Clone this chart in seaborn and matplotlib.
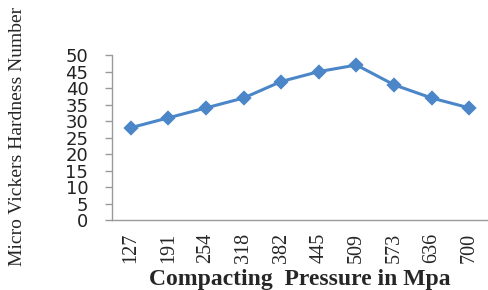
import matplotlib
matplotlib.use("Agg")
import matplotlib.pyplot as plt
import seaborn as sns
import pandas as pd
import numpy as np

pressure = ["127", "191", "254", "318", "382", "445", "509", "573", "636", "700"]
hardness = [28, 31, 34, 37, 42, 45, 47, 41, 37, 34]
yticks = [0, 5, 10, 15, 20, 25, 30, 35, 40, 45, 50]

sns.set_style("white")
plt.rcParams["font.family"] = ["DejaVu Sans"]

df = pd.DataFrame({"pressure": pressure, "hardness": hardness})

fig = plt.figure(figsize=(4.89, 2.90), dpi=100)
ax = fig.add_axes([0.229, 0.241, 0.769, 0.569])

sns.pointplot(data=df, x="pressure", y="hardness", ax=ax, color="#4A86C8",
              markers="D", markersize=6, linewidth=2.2, errorbar=None)

ax.set_xlim(-0.5, len(pressure) - 0.5)
ax.set_ylim(0, 50)
ax.set_yticks(yticks)
ax.set_yticklabels([str(t) for t in yticks], fontsize=13, color="#222222")
ax.set_xticks(range(len(pressure)))
ax.set_xticklabels(pressure, rotation=90, fontsize=14.5, family="Liberation Serif")
ax.set_xticks(np.arange(-0.5, len(pressure), 1.0), minor=True)
ax.tick_params(axis="x", which="major", length=0, pad=9)
ax.tick_params(axis="x", which="minor", length=5, color="#9a9a9a", width=1, direction="out")
ax.tick_params(axis="y", length=5, color="#9a9a9a", width=1, direction="out", pad=12, left=True)

for s in ["top", "right"]:
    ax.spines[s].set_visible(False)
for s in ["left", "bottom"]:
    ax.spines[s].set_color("#9a9a9a")
    ax.spines[s].set_linewidth(1)

ax.set_ylabel("Micro Vickers Hardness Number", family="Liberation Serif", fontsize=14,
              va="center")
ax.set_xlabel("Compacting  Pressure in Mpa", family="Liberation Serif", fontsize=17,
              fontweight="bold", va="center")
ax.yaxis.set_label_coords(-0.25, 0.51)
ax.xaxis.set_label_coords(0.5, -0.36)

fig.savefig("out.png", dpi=100)
